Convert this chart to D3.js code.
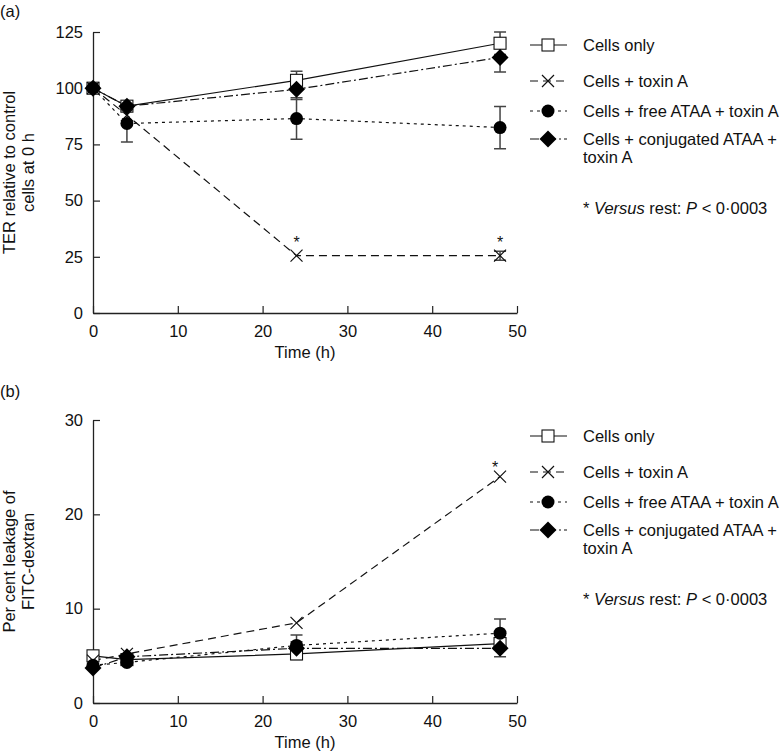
<!DOCTYPE html>
<html><head><meta charset="utf-8">
<script src="https://cdn.jsdelivr.net/npm/d3@7"></script>
<style>body{margin:0;background:#fff}svg{display:block}text{font-family:"Liberation Sans",Arial,sans-serif;fill:#111}</style>
</head><body>
<svg id="c" width="781" height="754"></svg>
<script>
const times = [0, 4, 24, 48];
const seriesNames = ["Cells only", "Cells + toxin A", "Cells + free ATAA + toxin A", "Cells + conjugated ATAA +|toxin A"];
// Panel (a): TER relative to control cells at 0 h
const aCells = [100, 92, 103.5, 120];
const aCellsErr = [0, 1, 4, 5];
const aToxin = [100, 88, 25.5, 25.5];
const aToxinErr = [0, 0, 0, 2];
const aFree = [100, 84.3, 86.5, 82.5];
const aFreeErr = [0, 8.2, 9.2, 9.4];
const aConj = [100, 92, 99.5, 113.7];
const aConjErr = [0, 1.5, 4.5, 6.5];
// Panel (b): per cent leakage of FITC-dextran
const bCells = [5.0, 4.6, 5.2, 6.3];
const bCellsErr = [0, 0, 0.6, 0.6];
const bToxin = [4.5, 5.2, 8.5, 24.0];
const bToxinErr = [0, 0, 0, 0];
const bFree = [4.0, 4.3, 6.1, 7.4];
const bFreeErr = [0, 0, 1.1, 1.5];
const bConj = [3.7, 4.9, 5.8, 5.8];
const bConjErr = [0, 0, 0.7, 0.9];
const xTicks = [0, 10, 20, 30, 40, 50];
const aYTicks = [0, 25, 50, 75, 100, 125];
const bYTicks = [0, 10, 20, 30];
const aStars = [24, 48];
const bStars = [48];

const FS = 16.5;
const svg = d3.select("#c");
const styles = [
  {dash: null, marker: "square"},
  {dash: "8,5", marker: "cross"},
  {dash: "3,4", marker: "circle"},
  {dash: "9,3,2,3", marker: "diamond"}
];

function marker(g, type, x, y) {
  if (type === "square") {
    g.append("rect").attr("x", x - 6).attr("y", y - 6).attr("width", 12).attr("height", 12)
      .attr("fill", "#fff").attr("stroke", "#111").attr("stroke-width", 1.1);
  } else if (type === "cross") {
    const s = 6;
    g.append("path").attr("d", `M${x-s},${y-s}L${x+s},${y+s}M${x-s},${y+s}L${x+s},${y-s}`)
      .attr("stroke", "#111").attr("stroke-width", 1.2).attr("fill", "none");
  } else if (type === "circle") {
    g.append("circle").attr("cx", x).attr("cy", y).attr("r", 6.5).attr("fill", "#000");
  } else {
    const s = 8.5;
    g.append("path").attr("d", `M${x},${y-s}L${x+s},${y}L${x},${y+s}L${x-s},${y}Z`).attr("fill", "#000");
  }
}

function panel(cfg) {
  const x = d3.scaleLinear().domain([0, 50]).range([93, 517]);
  const y = d3.scaleLinear().domain([0, cfg.yMax]).range([cfg.bottom, cfg.top]);
  const g = svg.append("g");
  g.append("text").attr("x", 0).attr("y", cfg.labelY).attr("font-size", FS).text(cfg.label);
  const xa = g.append("g").attr("transform", `translate(0,${cfg.bottom})`)
    .call(d3.axisBottom(x).tickValues(xTicks).tickSizeInner(-7).tickSizeOuter(0).tickPadding(10));
  const ya = g.append("g").attr("transform", "translate(93,0)")
    .call(d3.axisLeft(y).tickValues(cfg.yTicks).tickSizeInner(-7).tickSizeOuter(0).tickPadding(10));
  [xa, ya].forEach(a => {
    a.select(".domain").attr("stroke", "#222").attr("stroke-width", 1.3);
    a.selectAll(".tick line").attr("stroke", "#222").attr("stroke-width", 1.2);
    a.selectAll(".tick text").attr("font-size", FS).attr("fill", "#111").attr("font-family", "Liberation Sans, Arial, sans-serif");
  });
  xa.selectAll(".tick text").attr("dy", "0.85em");
  g.append("text").attr("x", 305).attr("y", cfg.bottom + 45).attr("text-anchor", "middle")
    .attr("font-size", FS).text("Time (h)");
  const yl = g.append("text").attr("transform", `translate(0,${(cfg.top + cfg.bottom) / 2}) rotate(-90)`)
    .attr("text-anchor", "middle").attr("font-size", FS);
  yl.append("tspan").attr("x", 0).attr("y", 15).text(cfg.ylab[0]);
  yl.append("tspan").attr("x", 0).attr("y", 34).text(cfg.ylab[1]);

  const line = d3.line().x((d, i) => x(times[i])).y(d => y(d));
  cfg.series.forEach((s, k) => {
    s.v.forEach((v, i) => {
      const e = s.e[i];
      if (!e) return;
      const cx = x(times[i]);
      g.append("path").attr("d", `M${cx},${y(v - e)}L${cx},${y(v + e)}M${cx-6},${y(v + e)}L${cx+6},${y(v + e)}M${cx-6},${y(v - e)}L${cx+6},${y(v - e)}`)
        .attr("stroke", "#444").attr("stroke-width", 1.5).attr("fill", "none");
    });
  });
  cfg.series.forEach((s, k) => {
    g.append("path").datum(s.v).attr("d", line).attr("fill", "none").attr("stroke", "#111")
      .attr("stroke-width", 1.2).attr("stroke-dasharray", styles[k].dash);
  });
  cfg.series.forEach((s, k) => {
    s.v.forEach((v, i) => marker(g, styles[k].marker, x(times[i]), y(v)));
  });
  cfg.stars.forEach(t => {
    const i = times.indexOf(t);
    g.append("text").attr("x", x(t) + cfg.starDx).attr("y", y(cfg.series[1].v[i]) - cfg.starDy)
      .attr("text-anchor", "middle").attr("font-size", 16).text("*");
  });
  const rows = [cfg.legTop, cfg.legTop + 36, cfg.legTop + 66, cfg.legTop + 94];
  rows.forEach((ry, k) => {
    g.append("line").attr("x1", 530).attr("x2", 567).attr("y1", ry).attr("y2", ry)
      .attr("stroke", "#111").attr("stroke-width", 1.2).attr("stroke-dasharray", styles[k].dash);
    marker(g, styles[k].marker, 548, ry);
    const parts = seriesNames[k].split("|");
    parts.forEach((p, j) => {
      g.append("text").attr("x", 583).attr("y", ry + 6 + j * 18).attr("font-size", FS).text(p);
    });
  });
  const fn = g.append("text").attr("x", 583).attr("y", cfg.legTop + 169).attr("font-size", FS);
  fn.append("tspan").text("* ");
  fn.append("tspan").attr("font-style", "italic").text("Versus");
  fn.append("tspan").text(" rest: ");
  fn.append("tspan").attr("font-style", "italic").text("P");
  fn.append("tspan").text(" < 0\u00b70003");
}

panel({label: "(a)", labelY: 17, top: 32, bottom: 313, yMax: 125, yTicks: aYTicks,
  ylab: ["TER relative to control", "cells at 0 h"], legTop: 45, stars: aStars, starDx: 0, starDy: 8,
  series: [{v: aCells, e: aCellsErr}, {v: aToxin, e: aToxinErr}, {v: aFree, e: aFreeErr}, {v: aConj, e: aConjErr}]});
panel({label: "(b)", labelY: 397, top: 420, bottom: 703, yMax: 30, yTicks: bYTicks,
  ylab: ["Per cent leakage of", "FITC-dextran"], legTop: 436, stars: bStars, starDx: -5, starDy: 4,
  series: [{v: bCells, e: bCellsErr}, {v: bToxin, e: bToxinErr}, {v: bFree, e: bFreeErr}, {v: bConj, e: bConjErr}]});
</script>
</body></html>
